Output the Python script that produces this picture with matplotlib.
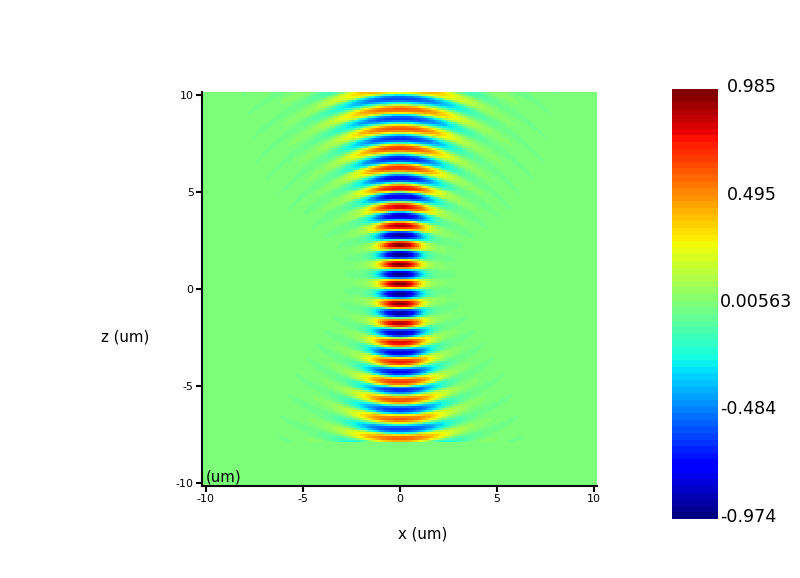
import numpy as np
import matplotlib
matplotlib.use("Agg")
import matplotlib.pyplot as plt
from matplotlib.colors import ListedColormap, Normalize
from matplotlib.cm import ScalarMappable
from matplotlib.transforms import blended_transform_factory, ScaledTranslation

# Values: one entry per wave crest, top to bottom
crest_z = [12.85, 12.35, 11.85, 11.35, 10.85, 10.34, 9.85, 9.31, 8.83, 8.31, 7.80, 7.30,
           6.77, 6.29, 5.76, 5.24, 4.76, 4.24, 3.76, 3.26, 2.77, 2.27, 1.77, 1.27, 0.76, 0.26,
           -0.26, -0.76, -1.25, -1.77, -2.27, -2.77, -3.28, -3.76, -4.28, -4.78, -5.26, -5.77,
           -6.27, -6.75, -7.27, -7.75, -8.25, -8.75, -9.25, -9.75, -10.25]
crest_amp = [-.42, .44, -.45, .47, -.48, .52, -.58, .60, -.60, .62, -.63, .67,
             -.69, .70, -.73, .77, -.80, .83, -.85, .89, -.93, .97, -.97, .97, -.97, .985,
             -.974, .95, -.92, .89, -.86, .82, -.80, .74, -.73, .68, -.65, .64,
             -.63, .60, -.60, .58, -.57, .50, -.48, .45, -.42]
crest_width = [3.7, 3.6, 3.5, 3.4, 3.3, 3.2, 3.1, 3.0, 2.85, 2.7, 2.55, 2.4,
               2.3, 2.15, 2.0, 1.9, 1.75, 1.6, 1.45, 1.33, 1.2, 1.1, 1.07, 1.07, 1.07, 1.07,
               1.07, 1.1, 1.15, 1.2, 1.3, 1.4, 1.5, 1.6, 1.72, 1.85, 1.95, 2.05,
               2.2, 2.3, 2.4, 2.5, 2.6, 2.7, 2.8, 2.9, 3.0]
crest_curv = [.075, .078, .08, .085, .09, .095, .098, .10, .108, .115, .122, .13,
              .133, .135, .135, .135, .138, .14, .135, .13, .11, .09, .05, .02, 0.001, -.02,
              -.04, -.07, -.09, -.11, -.125, -.135, -.135, -.135, -.135, -.13, -.13, -.125,
              -.115, -.105, -.095, -.085, -.08, -.078, -.075, -.072, -.07]
cutoff_z = -7.96
tick_vals = [-10, -5, 0, 5, 10]
cbar_vals = [0.985, 0.495, 0.00563, -0.484, -0.974]
cbar_labels = ["0.985", "0.495", "0.00563", "-0.484", "-0.974"]
cbar_label_x = [727, 727, 720, 720, 720]
vmin, vmax = -0.974, 0.985

plt.rcParams['font.family'] = 'DejaVu Sans'
plt.rcParams['axes.unicode_minus'] = False
W, H = 800, 578
fig = plt.figure(figsize=(W / 100, H / 100), dpi=100)
ax = fig.add_axes([202 / W, 1 - 486 / H, 394.5 / W, 394 / H])
xlim = (-10.2, 10.15)
ylim = (-10.15, 10.15)

x = np.linspace(*xlim, 198)
z = np.linspace(*ylim, 198)
X, Z = np.meshgrid(x, z)
field = np.zeros_like(X)
for zc, a, w, c in zip(crest_z, crest_amp, crest_width, crest_curv):
    drop = (1 - np.sqrt(np.clip(1 - (c * X) ** 2, 0.02, None))) / c
    d = Z - zc + drop
    arc = np.where(np.abs(d) < 0.25, np.abs(np.cos(2 * np.pi * d)) ** 0.7, 0.0)
    env = 0.9 * np.exp(-np.abs(X / w) ** 2.5) + 0.1 * np.exp(-(X / (1.8 * w)) ** 2)
    field += a * arc * env
field[Z < cutoff_z] = 0.0

cmap = ListedColormap(plt.get_cmap('jet')(np.linspace(0, 1, 65)))
norm = Normalize(vmin, vmax)
ax.imshow(field, origin='lower', extent=[*xlim, *ylim], cmap=cmap, norm=norm,
          interpolation='nearest', aspect='auto')
ax.set_xlim(*xlim)
ax.set_ylim(*ylim)
for s in ('top', 'right'):
    ax.spines[s].set_visible(False)
for s in ('left', 'bottom'):
    ax.spines[s].set_linewidth(1.5)
ax.set_xticks(tick_vals)
ax.set_yticks(tick_vals)
ax.tick_params(length=4, width=1.5, labelsize=7.9, pad=2)
fig.text(125.5 / W, 1 - 337 / H, "z (um)", fontsize=10.8, ha='center', va='center')
fig.text(423 / W, 1 - 534 / H, "x (um)", fontsize=10.8, ha='center', va='center')
fig.text(206 / W, 1 - 477 / H, "(um)", fontsize=10.8, ha='left', va='center')

cax = fig.add_axes([672 / W, 1 - 519 / H, 46 / W, 430 / H])
cb = fig.colorbar(ScalarMappable(norm=norm, cmap=cmap), cax=cax, drawedges=False)
cb.outline.set_visible(False)
cb.set_ticks([])
tr = blended_transform_factory(fig.transFigure, cax.transData)
for v, lab, lx in zip(cbar_vals, cbar_labels, cbar_label_x):
    cax.text(lx / W, v, lab, fontsize=12.6, ha='left', va='center', clip_on=False,
             transform=tr + ScaledTranslation(0, 2 / 100, fig.dpi_scale_trans))

fig.savefig("out.png", dpi=100)
